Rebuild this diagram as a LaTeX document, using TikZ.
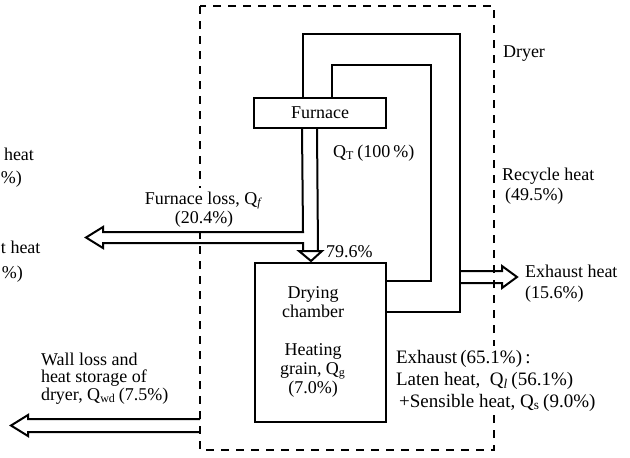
\documentclass[tikz,border=0pt]{standalone}
\usepackage{fontspec}
\setmainfont{Liberation Serif}
\usetikzlibrary{positioning}

\begin{document}
\begin{tikzpicture}[x=0.5pt, y=-0.5pt, line width=1pt,
    every node/.style={font=\fontsize{9}{10}\selectfont},
    unit/.style={draw, rectangle, inner sep=0pt},
    lbl/.style={anchor=base west, align=left, inner sep=0pt},
    blank/.style={fill=white, inner sep=2pt},
    border/.style={line width=0.7pt, dash pattern=on 4pt off 3.5pt}]

    \useasboundingbox (0,0) rectangle (630,457);

    % Dryer boundary
    \draw[border] (200,6) rectangle (494,450);
    \node[lbl] (dryer) at (502,57) {Dryer};

    % Furnace and drying chamber
    \node[unit, minimum width=66pt, minimum height=15pt] (furnace) at (320,113) {Furnace};
    \node[unit, minimum width=65.5pt, minimum height=79.5pt] (chamber) at (320.5,342.5) {};
    \node[inner sep=0pt, align=center, font=\fontsize{9}{9.5}\selectfont] (chambertxt) at (313,342)
        {Drying\\chamber\\[9.5pt]Heating\\grain, Q\textsubscript{g}\\(7.0\%)};

    % recycle loops
    \coordinate (outer) at (460,34);
    \coordinate (inner) at (431,65);
    \draw ([xshift=25pt]furnace.north west) |- (outer) |- ([yshift=-25pt]chamber.north east);
    \draw ([xshift=39.5pt]furnace.north west) |- (inner) |- ([yshift=-9.5pt]chamber.north east);
    \node[lbl, font=\fontsize{9}{10}\selectfont] (recycle) at (501,200) {Recycle heat\\\,(49.5\%)};

    % Q_T column with furnace loss
    \draw ([xshift=32pt]furnace.south west) -- (318,251);
    \draw ([xshift=24.5pt]furnace.south west) -- (303,232) -- (103,232) -- (103,227) -- (86,237.5)
        -- (103,248) -- (103,243) -- (303,243) -- (303,251);
    \draw (299,251) -- (322,251) -- (311,261) -- cycle;
    \node[lbl] (qt) at (332,157) {Q\textsubscript{T}\,(100\,\%)};
    \node[blank, align=center, anchor=base, font=\fontsize{9}{9.5}\selectfont] (floss) at (204,223)
        {Furnace loss, Q\textsubscript{\textit{f}}\\(20.4\%)};
    \node[lbl] (into) at (325,257) {79.6\%};

    % exhaust heat
    \draw (460,271) -- (502,271) -- (502,266) -- (517,277) -- (502,288) -- (502,283) -- (460,283);
    \node[lbl, font=\fontsize{9}{10.5}\selectfont] (exheat) at (524,298) {Exhaust heat\\(15.6\%)};

    % exhaust split
    \node[lbl, blank, font=\fontsize{9.5}{11}\selectfont] (exhaust) at (391,407)
        {Exhaust\,(65.1\%)\,:\\Laten heat, \ Q\textsubscript{\textit{l}}\,(56.1\%)\\\,+Sensible heat, Q\textsubscript{s}\,(9.0\%)};

    % wall loss
    \draw (200,419) -- (28,419) -- (28,415) -- (11,425.5) -- (28,436) -- (28,432) -- (200,432);
    \node[lbl, font=\fontsize{9}{8.75}\selectfont] (wall) at (40,400)
        {Wall loss and\\heat storage of\\dryer, Q\textsubscript{wd}\,(7.5\%)};

    % labels at the left edge
    \node[lbl] (cut1) at (3,160) {heat};
    \node[lbl] (cut2) at (0,183) {\%)};
    \node[lbl] (cut3) at (0,253) {t heat};
    \node[lbl] (cut4) at (1,278) {\%)};

\end{tikzpicture}
\end{document}
